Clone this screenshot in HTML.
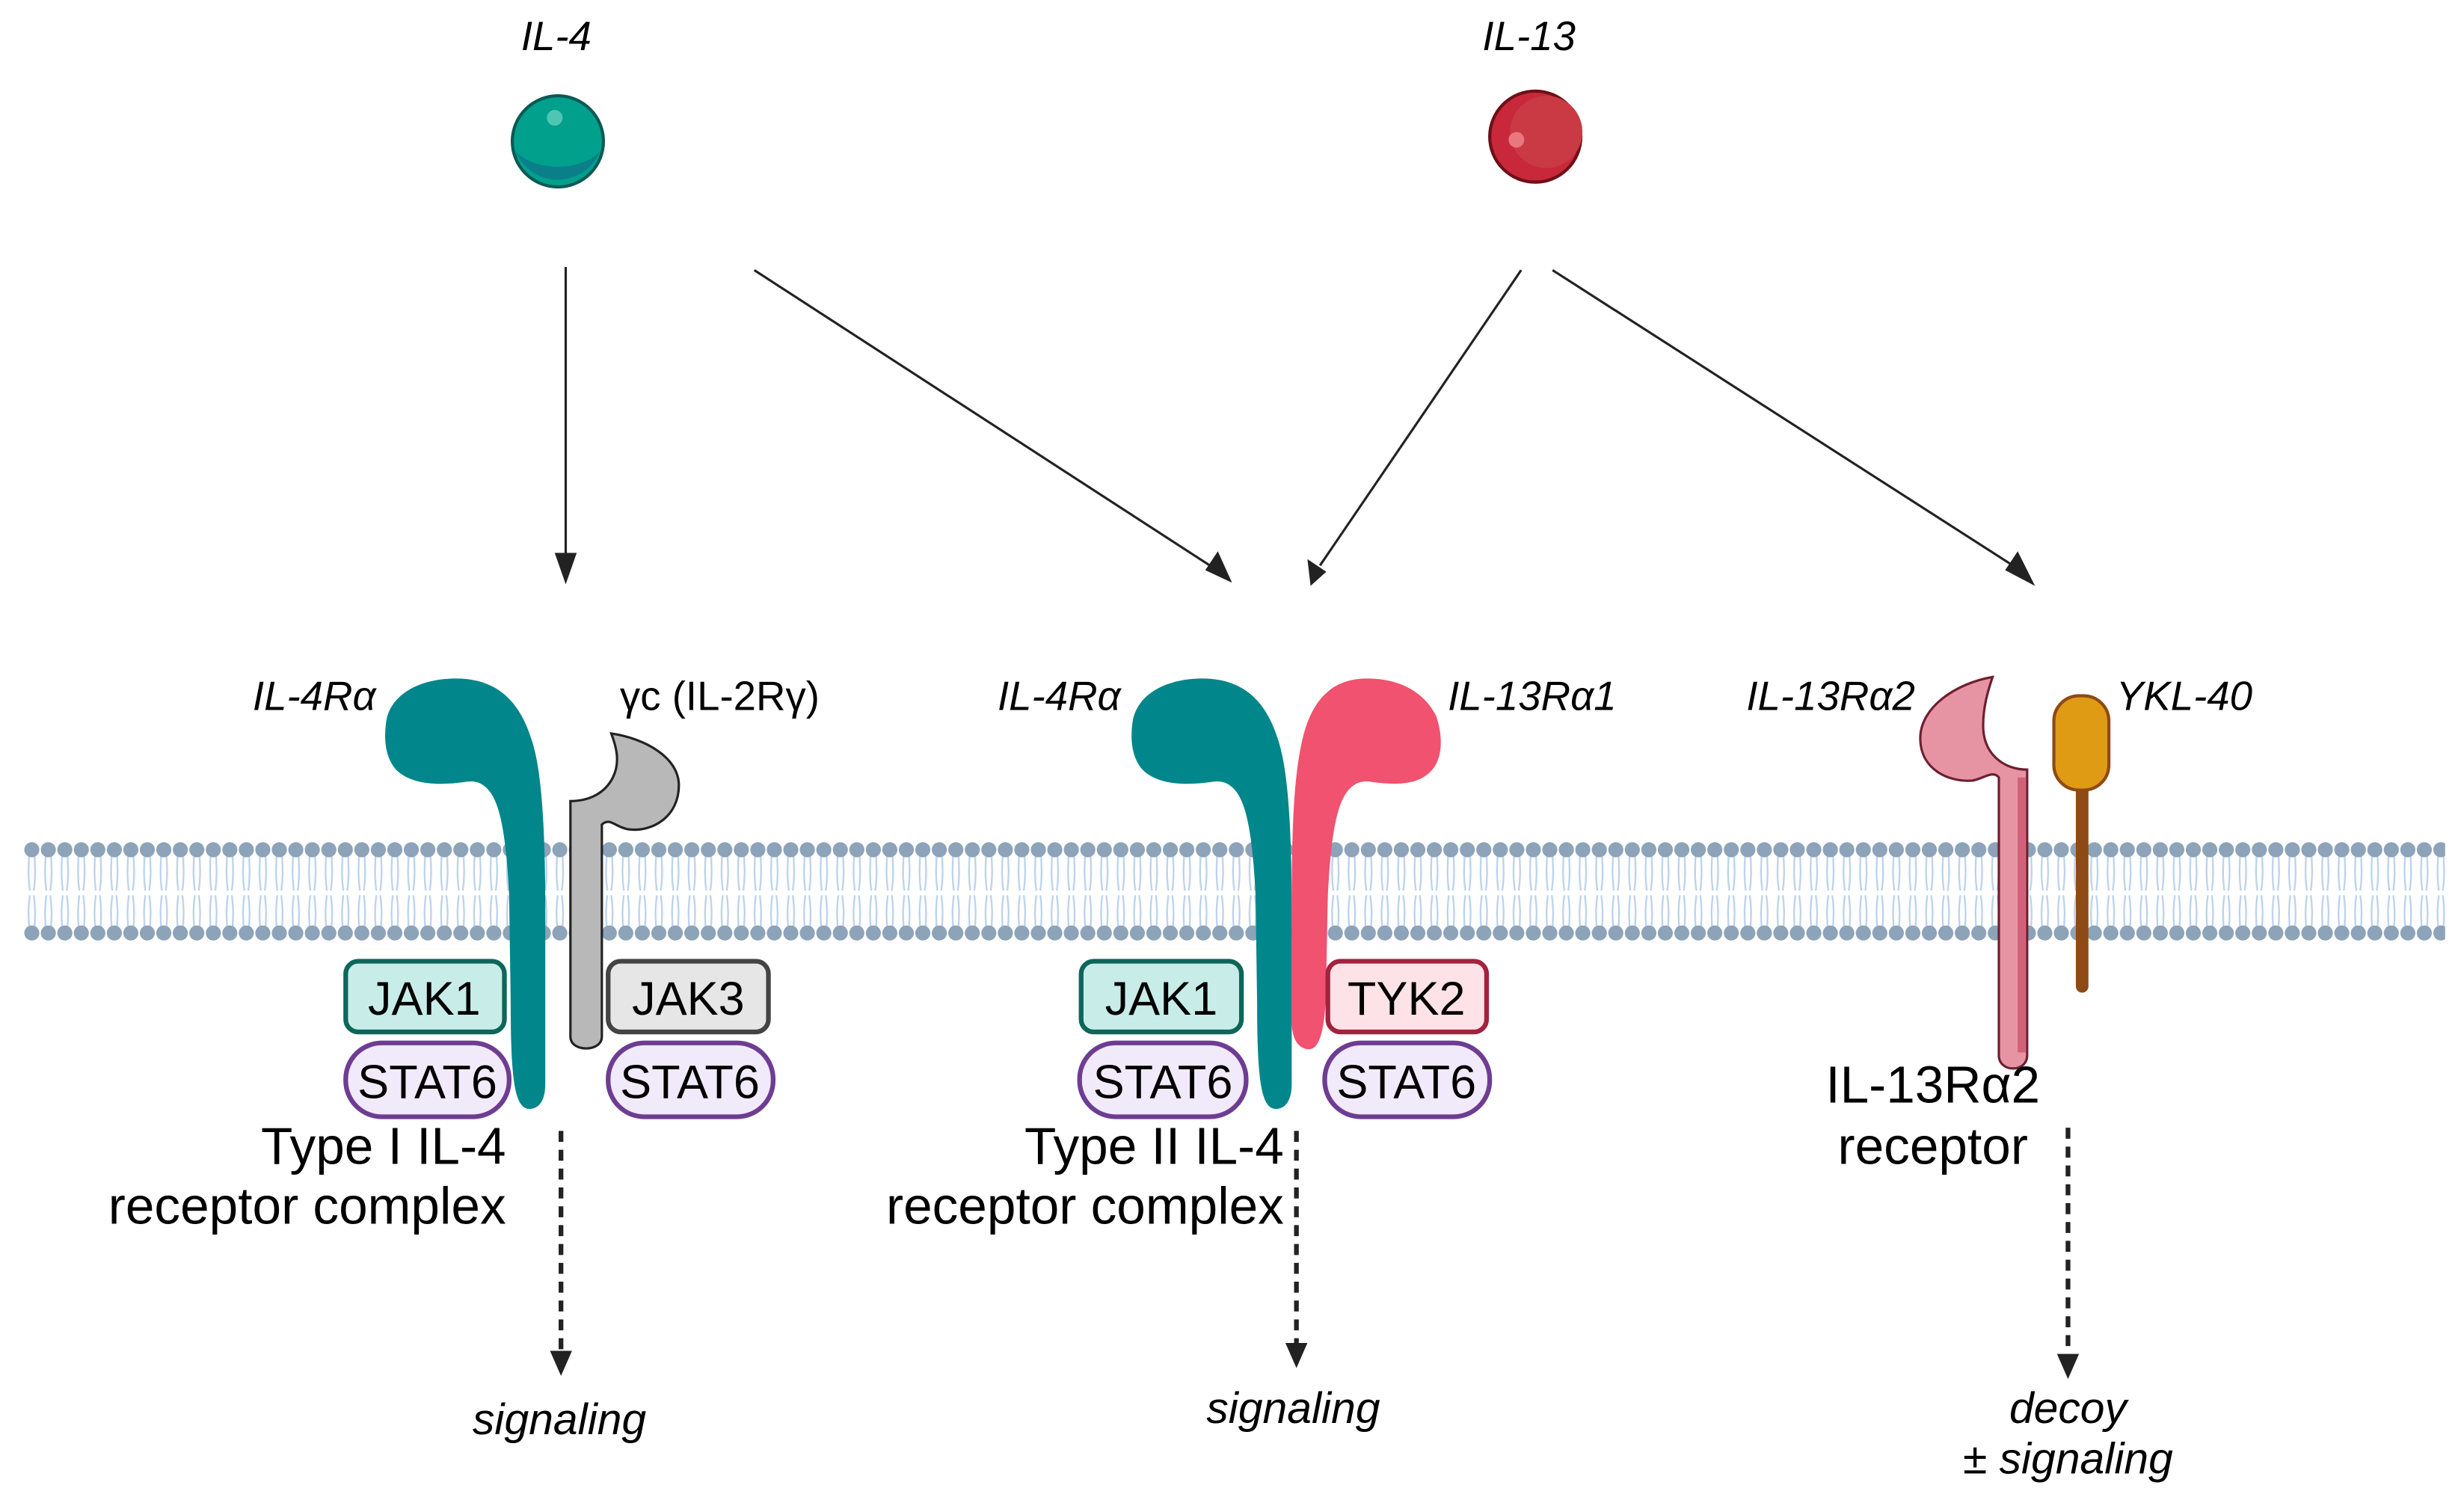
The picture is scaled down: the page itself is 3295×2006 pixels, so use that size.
<!DOCTYPE html>
<html><head><meta charset="utf-8"><style>
html,body{margin:0;padding:0;background:#fff;}
svg{display:block;}
text{font-family:"Liberation Sans","DejaVu Sans",sans-serif;fill:#000;}
.it{font-style:italic;}
</style></head><body>
<svg width="3295" height="2006" viewBox="0 0 1568 955" preserveAspectRatio="none" xmlns="http://www.w3.org/2000/svg">
<defs>
<pattern id="lip" x="15" y="0" width="10.5" height="955" patternUnits="userSpaceOnUse">
 <path d="M3.5 545 C3 555 3 560 4 567 M7 545 C7.5 555 7.5 560 6.5 567 M4 570 C3 577 3 582 3.5 590 M6.5 570 C7.5 577 7.5 582 7 590" stroke="#bcd2ec" stroke-width="1.1" fill="none"/>
 <circle cx="5.25" cy="541" r="4.8" fill="#8ca3b9"/>
 <circle cx="5.25" cy="594" r="4.8" fill="#8ca3b9"/>
</pattern>
</defs>
<rect x="0" y="0" width="1568" height="955" fill="#fff"/>
<rect x="15" y="530" width="1541" height="75" fill="url(#lip)"/>

<!-- ligands -->
<text x="354" y="32" font-size="26" text-anchor="middle" class="it">IL-4</text>
<circle cx="355" cy="90" r="29" fill="#00a08c" stroke="#0b5a55" stroke-width="2"/>
<path d="M328 96 A29 29 0 0 0 382 96 A30 18 0 0 1 328 96 Z" fill="#0a7f8a"/>
<circle cx="353" cy="75" r="5" fill="#4fc6b4"/>
<text x="973" y="32" font-size="26" text-anchor="middle" class="it">IL-13</text>
<circle cx="977" cy="87" r="29" fill="#c8283a" stroke="#6e1018" stroke-width="2"/>
<circle cx="984" cy="84" r="23" fill="#c93a44"/>
<circle cx="965" cy="89" r="5" fill="#e8777e"/>

<!-- arrows -->
<g stroke="#222" stroke-width="1.5" fill="none">
<line x1="360" y1="170" x2="360" y2="355"/>
<line x1="480" y1="172" x2="773" y2="362"/>
<line x1="968" y1="172" x2="840" y2="360"/>
<line x1="988" y1="172" x2="1284" y2="362"/>
</g>
<path d="M353 352 L367 352 L360 372 Z" fill="#222"/>
<path d="M767 363 L775 351 L784 371 Z" fill="#222"/>
<path d="M832 356 L844 364 L834 373 Z" fill="#222"/>
<path d="M1276 363 L1284 351 L1295 373 Z" fill="#222"/>

<!-- Type I -->
<text x="200" y="452" font-size="26" text-anchor="middle" class="it">IL-4Rα</text>
<text x="458" y="452" font-size="26" text-anchor="middle">γc (IL-2Rγ)</text>
<path d="M337 706 C328 706 325 690 325 640 L324 570 C322 530 318 510 310 502 C305 497 300 497 295 498 C280 500 262 500 252 490 C245 482 244 470 246 458 C250 440 270 432 290 432 C315 432 330 445 338 470 C345 490 347 530 347 580 L347 690 C347 702 342 706 337 706 Z" fill="#00868b"/>
<path d="M363 510 C375 510 385 505 390 495 C395 485 392 475 389 467 C410 470 432 482 432 500 C432 520 415 530 400 528 C392 527 388 520 383 525 L383 660 C383 670 363 670 363 660 Z" fill="#b8b8b8" stroke="#222" stroke-width="1.5"/>
<rect x="220" y="612" width="101" height="45" rx="8" fill="#c8ede8" stroke="#0d6659" stroke-width="3"/>
<text x="270" y="646" font-size="30" text-anchor="middle">JAK1</text>
<rect x="220" y="664" width="104" height="47" rx="23" fill="#f1eafa" stroke="#6e3d92" stroke-width="3"/>
<text x="272" y="699" font-size="30" text-anchor="middle">STAT6</text>
<rect x="387" y="612" width="102" height="45" rx="8" fill="#e6e6e6" stroke="#444" stroke-width="3"/>
<text x="438" y="646" font-size="30" text-anchor="middle">JAK3</text>
<rect x="387" y="664" width="105" height="47" rx="23" fill="#f1eafa" stroke="#6e3d92" stroke-width="3"/>
<text x="439" y="699" font-size="30" text-anchor="middle">STAT6</text>
<text x="322" y="741" font-size="33" text-anchor="end">Type I IL-4</text>
<text x="322" y="779" font-size="33" text-anchor="end">receptor complex</text>
<line x1="357" y1="720" x2="357" y2="860" stroke="#222" stroke-width="3" stroke-dasharray="7,5"/>
<path d="M350 860 L364 860 L357 876 Z" fill="#222"/>
<text x="356" y="913" font-size="28" text-anchor="middle" class="it">signaling</text>

<!-- Type II -->
<text x="674" y="452" font-size="26" text-anchor="middle" class="it">IL-4Rα</text>
<text x="975" y="452" font-size="26" text-anchor="middle" class="it">IL-13Rα1</text>
<g transform="translate(475,0)">
<path d="M337 706 C328 706 325 690 325 640 L324 570 C322 530 318 510 310 502 C305 497 300 497 295 498 C280 500 262 500 252 490 C245 482 244 470 246 458 C250 440 270 432 290 432 C315 432 330 445 338 470 C345 490 347 530 347 580 L347 690 C347 702 342 706 337 706 Z" fill="#00868b"/>
</g>
<path d="M833 668 C840 668 844 655 844 620 L845 570 C847 530 851 510 859 502 C864 497 869 497 874 498 C889 500 905 500 913 488 C918 480 918 468 914 456 C906 440 890 432 870 432 C848 432 835 445 829 470 C823 495 822 530 822 580 L822 650 C822 664 828 668 833 668 Z" fill="#f0526f"/>
<rect x="688" y="612" width="102" height="45" rx="8" fill="#c8ede8" stroke="#0d6659" stroke-width="3"/>
<text x="739" y="646" font-size="30" text-anchor="middle">JAK1</text>
<rect x="687" y="664" width="106" height="47" rx="23" fill="#f1eafa" stroke="#6e3d92" stroke-width="3"/>
<text x="740" y="699" font-size="30" text-anchor="middle">STAT6</text>
<rect x="845" y="612" width="101" height="45" rx="8" fill="#fde3e8" stroke="#a3223e" stroke-width="3"/>
<text x="895" y="646" font-size="30" text-anchor="middle">TYK2</text>
<rect x="843" y="664" width="105" height="47" rx="23" fill="#f1eafa" stroke="#6e3d92" stroke-width="3"/>
<text x="895" y="699" font-size="30" text-anchor="middle">STAT6</text>
<text x="817" y="741" font-size="33" text-anchor="end">Type II IL-4</text>
<text x="817" y="779" font-size="33" text-anchor="end">receptor complex</text>
<line x1="825" y1="720" x2="825" y2="855" stroke="#222" stroke-width="3" stroke-dasharray="7,5"/>
<path d="M818 855 L832 855 L825 871 Z" fill="#222"/>
<text x="823" y="906" font-size="28" text-anchor="middle" class="it">signaling</text>

<!-- IL-13Ra2 -->
<text x="1165" y="452" font-size="26" text-anchor="middle" class="it">IL-13Rα2</text>
<text x="1390" y="452" font-size="26" text-anchor="middle" class="it">YKL-40</text>
<path d="M1290 490 C1275 490 1262 480 1262 462 C1262 450 1265 440 1268 431 C1245 435 1222 450 1222 470 C1222 490 1240 498 1255 497 C1262 496 1268 490 1272 495 L1272 672 C1272 683 1290 683 1290 672 Z" fill="#e694a3" stroke="#6b1f30" stroke-width="1.5"/>
<path d="M1284 495 L1289 495 L1289 670 L1284 670 Z" fill="#d06078"/>
<rect x="1321" y="500" width="8" height="132" rx="4" fill="#8e4a14"/>
<rect x="1307" y="443" width="35" height="60" rx="16" fill="#e09b14" stroke="#8e4a14" stroke-width="2"/>
<text x="1230" y="702" font-size="33" text-anchor="middle">IL-13Rα2</text>
<text x="1230" y="741" font-size="33" text-anchor="middle">receptor</text>
<line x1="1316" y1="718" x2="1316" y2="862" stroke="#222" stroke-width="3" stroke-dasharray="7,5"/>
<path d="M1309 862 L1323 862 L1316 878 Z" fill="#222"/>
<text x="1316" y="906" font-size="28" text-anchor="middle" class="it">decoy</text>
<text x="1316" y="938" font-size="28" text-anchor="middle" class="it">± signaling</text>
</svg>
</body></html>
